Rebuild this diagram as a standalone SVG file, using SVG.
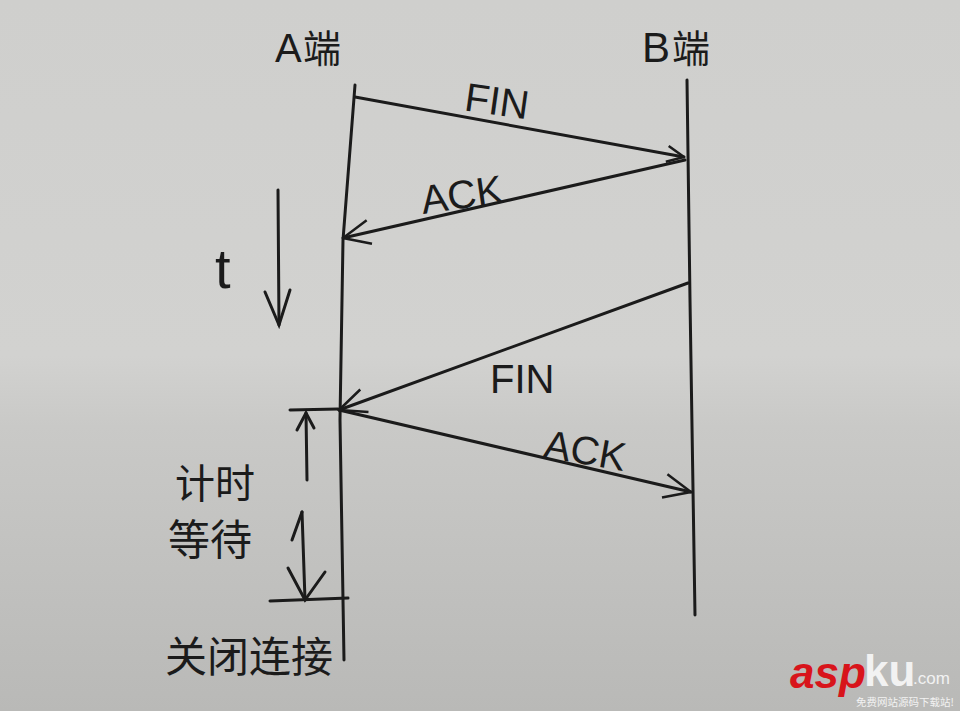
<svg xmlns="http://www.w3.org/2000/svg" width="960" height="711" viewBox="0 0 960 711">
<defs>
<linearGradient id="bg" x1="0" y1="0" x2="0" y2="1">
<stop offset="0" stop-color="#cfcfcd"/>
<stop offset="0.5" stop-color="#d2d2d0"/>
<stop offset="0.6" stop-color="#c9c9c7"/>
<stop offset="1" stop-color="#b9b9b7"/>
</linearGradient>
<marker id="ah" viewBox="0 0 20 20" refX="19" refY="10" markerWidth="20" markerHeight="20" markerUnits="userSpaceOnUse" orient="auto">
<path d="M2,2 L19,10 L2,18" fill="none" stroke="#1b1b1b" stroke-width="2.5"/>
</marker>
<marker id="ahL" viewBox="0 0 30 30" refX="29" refY="15" markerWidth="30" markerHeight="30" markerUnits="userSpaceOnUse" orient="auto">
<path d="M2,3 L29,15 L2,27" fill="none" stroke="#1b1b1b" stroke-width="2.5"/>
</marker>
</defs>
<style>
.ln{stroke:#1b1b1b;stroke-width:3;fill:none;stroke-linecap:round}
.hw{font-family:"Liberation Sans","Noto Sans CJK SC",sans-serif;fill:#1b1b1b}
.cj{font-family:"Noto Sans CJK SC","Liberation Sans",sans-serif;fill:#1b1b1b}
</style>
<rect width="960" height="711" fill="url(#bg)"/>
<g id="lifeline-A">
<path class="ln" d="M355,85 L343,240 L340,420 L344,660"/>
<text class="hw" x="275" y="62" font-size="40">A</text>
<text class="cj" x="303" y="62" font-size="38">端</text>
</g>
<g id="lifeline-B">
<path class="ln" d="M687,80 L690,300 L695,615"/>
<text class="hw" x="642" y="62" font-size="42">B</text>
<text class="cj" x="672" y="62" font-size="38">端</text>
</g>
<g id="time-axis">
<path class="ln" d="M278,190 L279,325"/>
<path class="ln" d="M265,292 L279,325 L290,290"/>
<text class="hw" x="215" y="288" font-size="56">t</text>
</g>
<g id="timed-wait">
<path class="ln" d="M290,410 L338,409"/>
<path class="ln" d="M307,480 L306,413"/>
<path class="ln" d="M297,430 L306,413 L314,428"/>
<path class="ln" d="M302,512 L305,600"/>
<path class="ln" d="M292,540 L302,512"/>
<path class="ln" d="M288,568 L305,600 L325,572"/>
<path class="ln" d="M270,601 L348,598"/>
<text class="cj" x="175" y="498" font-size="40">计时</text>
<text class="cj" x="168" y="555" font-size="42">等待</text>
</g>
<g id="close">
<text class="cj" x="165" y="672" font-size="42">关闭连接</text>
</g>
<g id="connectors">
<path class="ln" d="M355,97 L684,157" marker-end="url(#ah)"/>
<text class="hw" x="465" y="116" font-size="40" transform="rotate(8 505 100)">FIN</text>
<path class="ln" d="M685,160 L343,238" marker-end="url(#ahL)"/>
<text class="hw" x="420" y="208" font-size="40" transform="rotate(-8 465 190)">ACK</text>
<path class="ln" d="M688,283 L339,410" marker-end="url(#ahL)"/>
<text class="hw" x="490" y="393" font-size="40">FIN</text>
<path class="ln" d="M339,410 L691,492" marker-end="url(#ahL)"/>
<text class="hw" x="545" y="465" font-size="40" transform="rotate(10 590 445)">ACK</text>
</g>
<g id="watermark">
<text x="790" y="688" font-family="Liberation Sans,sans-serif" font-size="44" font-weight="bold" font-style="italic" fill="#d8141b">asp</text>
<text x="864" y="686" font-family="Liberation Sans,sans-serif" font-size="44" font-weight="bold" fill="#f2f2f2">ku</text>
<text x="913" y="684" font-family="Liberation Sans,sans-serif" font-size="17" fill="#f2f2f2">.com</text>
<text x="856" y="706" font-family="Noto Sans CJK SC,sans-serif" font-size="10.5" fill="#f2f2f2">免费网站源码下载站!</text>
</g>
</svg>
